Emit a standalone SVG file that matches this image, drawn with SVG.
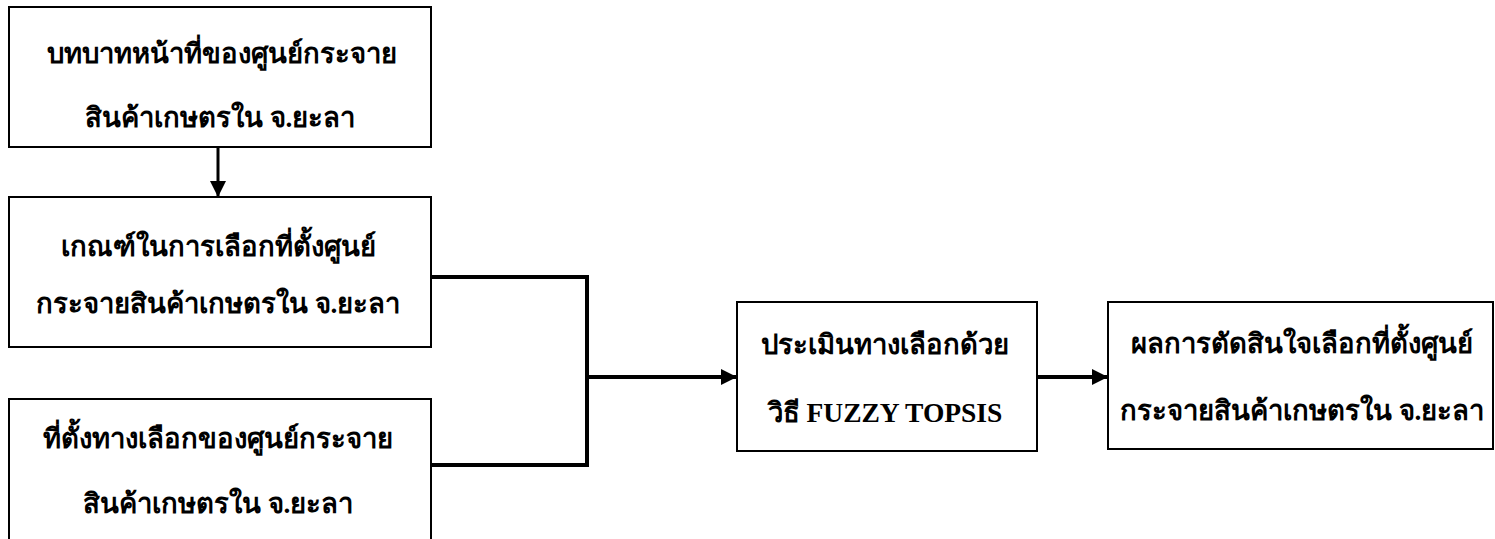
<svg xmlns="http://www.w3.org/2000/svg" width="1495" height="539" viewBox="0 0 1495 539">
  <style>
    .box { fill: #ffffff; stroke: #000000; stroke-width: 2; }
    .lbl { font-family: "Liberation Serif", serif; font-weight: bold; font-size: 27.5px; fill: #000000; text-anchor: middle; }
    .conn { fill: none; stroke: #000000; stroke-width: 4; }
    .arr { fill: none; stroke: #000000; stroke-width: 3; }
  </style>
  <defs>
    <marker id="ah" markerUnits="userSpaceOnUse" markerWidth="18" markerHeight="16" refX="16" refY="8" orient="auto">
      <path d="M0,0 L16,8 L0,16 Z" fill="#000000"/>
    </marker>
  </defs>
  <rect width="1495" height="539" fill="#ffffff"/>
  <g id="connectors">
    <line class="arr" x1="218" y1="147" x2="218" y2="197" marker-end="url(#ah)"/>
    <polyline class="conn" points="431,277 587,277 587,465 431,465"/>
    <line class="conn" x1="587" y1="377" x2="737" y2="377" marker-end="url(#ah)"/>
    <line class="conn" x1="1037" y1="377" x2="1108" y2="377" marker-end="url(#ah)"/>
  </g>
  <g id="node1">
    <rect class="box" x="9" y="7" width="422" height="140"/>
    <text class="lbl" x="222" y="63">บทบาทหน้าที่ของศูนย์กระจาย</text>
    <text class="lbl" x="220" y="127">สินค้าเกษตรใน จ.ยะลา</text>
  </g>
  <g id="node2">
    <rect class="box" x="9" y="197" width="422" height="150"/>
    <text class="lbl" x="218" y="256">เกณฑ์ในการเลือกที่ตั้งศูนย์</text>
    <text class="lbl" x="218" y="313">กระจายสินค้าเกษตรใน จ.ยะลา</text>
  </g>
  <g id="node3">
    <rect class="box" x="9" y="399" width="422" height="150"/>
    <text class="lbl" x="218" y="448">ที่ตั้งทางเลือกของศูนย์กระจาย</text>
    <text class="lbl" x="218" y="513">สินค้าเกษตรใน จ.ยะลา</text>
  </g>
  <g id="node4">
    <rect class="box" x="737" y="302" width="300" height="149"/>
    <text class="lbl" x="885" y="354">ประเมินทางเลือกด้วย</text>
    <text class="lbl" x="885" y="422">วิธี FUZZY TOPSIS</text>
  </g>
  <g id="node5">
    <rect class="box" x="1108" y="302" width="385" height="147"/>
    <text class="lbl" x="1302" y="353">ผลการตัดสินใจเลือกที่ตั้งศูนย์</text>
    <text class="lbl" x="1302" y="420">กระจายสินค้าเกษตรใน จ.ยะลา</text>
  </g>
</svg>
